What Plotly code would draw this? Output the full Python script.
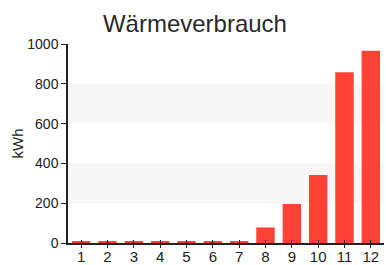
import plotly.graph_objects as go

months = ["1", "2", "3", "4", "5", "6", "7", "8", "9", "10", "11", "12"]
kwh = [10, 10, 10, 10, 10, 10, 10, 78, 196, 342, 858, 966]
y_ticks = [0, 200, 400, 600, 800, 1000]
bands = [(200, 400), (600, 800)]

fig = go.Figure()
fig.add_trace(go.Bar(x=months, y=kwh, marker=dict(color="#ff4136", line=dict(width=0)),
                     width=0.7, hoverinfo="x+y"))
# invisible twin used only to draw the inner half of the x tick marks
fig.add_trace(go.Bar(x=months, y=kwh, xaxis="x2", opacity=0, width=0.7,
                     hoverinfo="skip", showlegend=False))

shapes = [dict(type="rect", xref="paper", yref="y", x0=0, x1=1, y0=a, y1=b,
               fillcolor="#f7f7f7", line=dict(width=0), layer="below") for a, b in bands]

fig.update_layout(
    width=386, height=265,
    margin=dict(l=68, r=2, t=44, b=22),
    paper_bgcolor="white", plot_bgcolor="white",
    title=dict(text="Wärmeverbrauch", x=0.505, xanchor="center", y=0.91, yanchor="middle",
               font=dict(family="Liberation Sans, Arial", size=24, color="#2a2a2a")),
    font=dict(family="Liberation Sans, Arial", size=14, color="#222"),
    shapes=shapes,
    showlegend=False,
    xaxis2=dict(overlaying="x", matches="x", type="category", ticks="inside", ticklen=3,
                tickcolor="#222", showticklabels=False, showgrid=False, showline=False,
                side="bottom", anchor="y"),
)
fig.update_layout(xaxis=dict(type="category", showline=True, linecolor="#222", linewidth=1.5,
                             ticks="outside", ticklen=3, tickcolor="#222", showgrid=False,
                             tickfont=dict(size=15), ticklabelstandoff=-4, automargin=False))
fig.update_yaxes(range=[0, 1000], tickvals=y_ticks, showline=True, linecolor="#222",
                 linewidth=1.5, ticks="outside", ticklen=5, tickcolor="#222",
                 showgrid=False, zeroline=False, automargin=False,
                 title=dict(text="kWh", standoff=0, font=dict(size=15)),
                 tickfont=dict(size=14))

fig.write_html("out.html", config={"displayModeBar": False},
               post_script="document.body.style.margin='0px';")
